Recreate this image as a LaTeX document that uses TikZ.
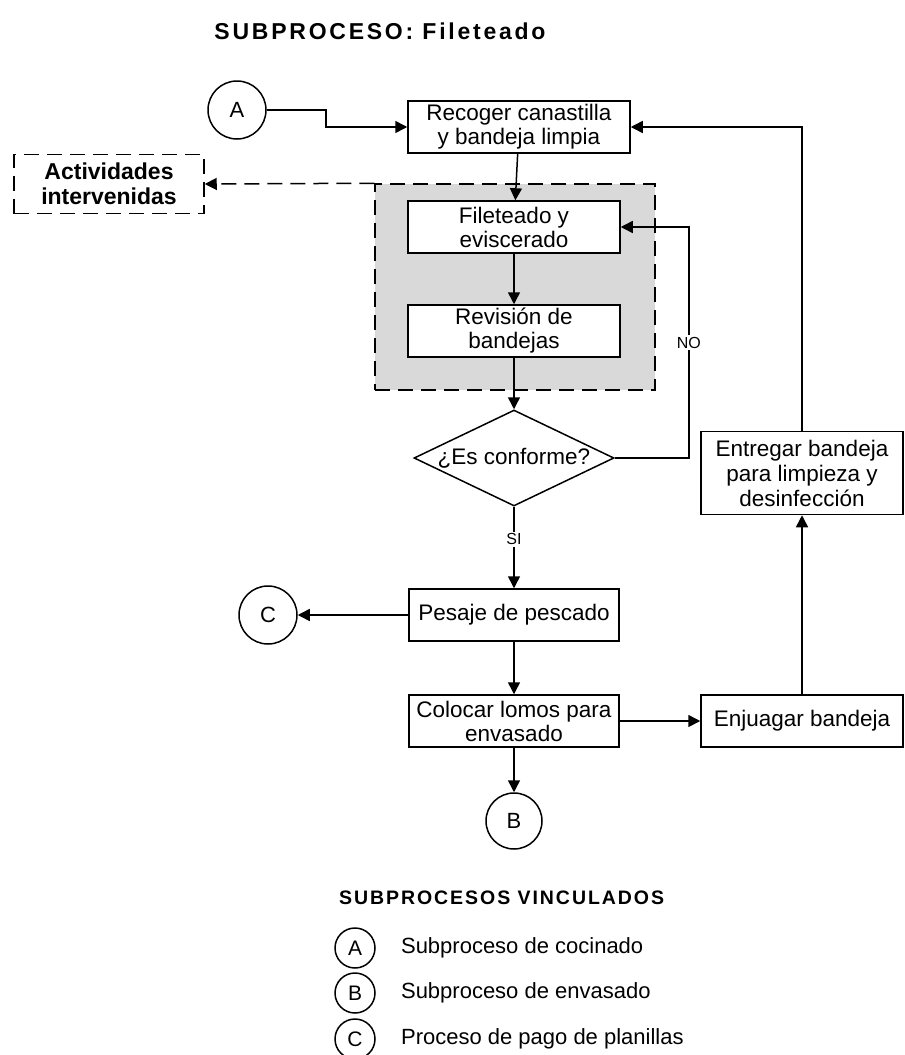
\documentclass[tikz,border=0pt]{standalone}
\usepackage{fontspec}
\setmainfont{Liberation Sans}
\usetikzlibrary{shapes.geometric, positioning, arrows.meta}

\begin{document}
\begin{tikzpicture}[x=1pt, y=-1pt, on grid, line width=1.5pt,
  >={Triangle[length=12pt,width=12pt]},
  proc/.style={draw, fill=white, align=center, inner sep=0pt,
    minimum width=212pt, minimum height=52pt, font=\fontsize{22.5}{24}\selectfont},
  conn/.style={draw, circle, inner sep=0pt, minimum size=58pt,
    font=\fontsize{22}{24}\selectfont},
  legconn/.style={draw, circle, inner sep=0pt, minimum size=40pt,
    font=\fontsize{21}{23}\selectfont},
  lab/.style={fill=white, inner sep=1.5pt, font=\fontsize{16}{18}\selectfont},
  dashline/.style={dash pattern=on 15pt off 8pt}]
   \useasboundingbox (0,0) rectangle (905,1055);

   % titulo
   \node[font=\fontsize{23}{26}\selectfont\bfseries\addfontfeatures{LetterSpace=12}]
     (titulo) at (380,31) {SUBPROCESO: Fileteado};

   % zona intervenida (fondo gris)
   \node[draw, dashline, fill=black!15, minimum width=280pt, minimum height=206pt]
     (grupo) at (515,287) {};
   \node[draw, dashline, align=center, minimum width=190pt, minimum height=59pt,
     inner sep=0pt, font=\fontsize{23}{25}\selectfont\bfseries]
     (act) at (109,184) {Actividades\\intervenidas};

   % conector de entrada
   \node[conn] (A) at (237,110) {A};

   % flujo principal
   \node[proc, minimum width=222pt] (rec) at (519,127) {Recoger canastilla\\y bandeja limpia};
   \node[proc] (fil) [below=100pt of rec, xshift=-5pt] {Fileteado y\\eviscerado};
   \node[proc] (rev) [below=104pt of fil] {Revisión de\\bandejas};
   \node[draw, diamond, fill=white, inner sep=0pt, minimum width=200pt, minimum height=96pt,
     label={[font=\fontsize{22.5}{24}\selectfont]center:¿Es conforme?}]
     (dec) [below=127pt of rev] {};
   \node[proc, minimum width=210pt] (pes) [below=157pt of dec] {Pesaje de pescado};
   \node[proc, minimum width=210pt] (col) [below=106pt of pes] {Colocar lomos para\\envasado};
   \node[conn, minimum size=56pt] (B) [below=100pt of col] {B};
   \node[conn] (C) [left=246pt of pes] {C};

   % retorno de bandejas
   \node[proc, minimum width=202pt] (enj) [right=288pt of col] {Enjuagar bandeja};
   \node[proc, minimum width=202pt, minimum height=83pt,
     font=\fontsize{22.5}{25}\selectfont] (ent) [above=248pt of enj]
     {Entregar bandeja\\para limpieza y\\desinfección};

   \draw[->] (A.east) -- ++(59,0) |- (rec);
   \draw[->] (rec) -- (fil);
   \draw[->] (fil) -- (rev);
   \draw[->] (rev) -- (dec);
   \draw[->] (dec.east) -- ++(74,0) |- node[lab, pos=0.25] {NO} (fil);
   \draw[->] (dec) -- node[lab, pos=0.4] {SI} (pes);
   \draw[->] (pes) -- (C);
   \draw[->] (pes) -- (col);
   \draw[->] (col) -- (B);
   \draw[->] (col) -- (enj);
   \draw[->] (enj) -- (ent);
   \draw[->] (ent) |- (rec);
   \draw[->, dashline] (grupo.north west) -- (act.east);

   % leyenda
   \node[anchor=west, font=\fontsize{19.5}{22}\selectfont\bfseries\addfontfeatures{LetterSpace=10}]
     (leyenda) at (335,898) {SUBPROCESOS VINCULADOS};
   \node[legconn] (la) at (355,948) {A};
   \node[legconn] (lb) [below=45pt of la] {B};
   \node[legconn] (lc) [below=46pt of lb] {C};
   \node[font=\fontsize{22}{24}\selectfont] (ta) [right=42pt of la, anchor=west] {Subproceso de cocinado};
   \node[font=\fontsize{22}{24}\selectfont] (tb) [right=42pt of lb, anchor=west] {Subproceso de envasado};
   \node[font=\fontsize{22}{24}\selectfont] (tc) [right=42pt of lc, anchor=west] {Proceso de pago de planillas};
\end{tikzpicture}
\end{document}
